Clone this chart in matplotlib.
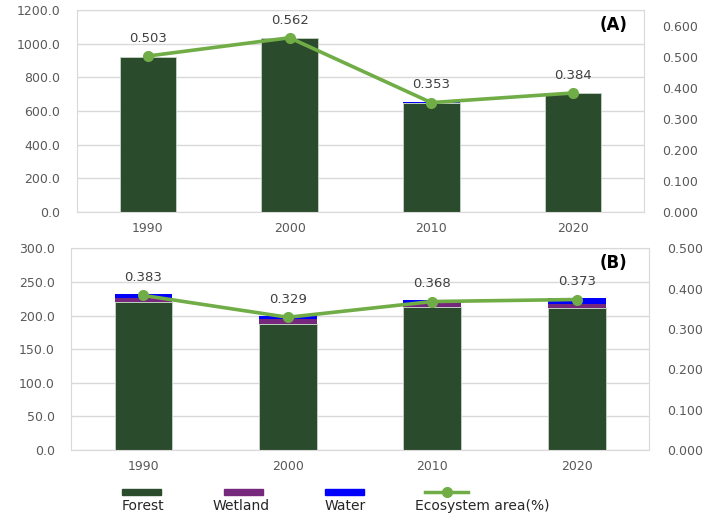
import matplotlib.pyplot as plt
from matplotlib.patches import Rectangle
from matplotlib.lines import Line2D

# data
years = ["1990", "2000", "2010", "2020"]

forest_a = [918, 1031, 649, 705]
wetland_a = [1, 1, 1, 1]
water_a = [3, 3, 2, 3]
eco_a = [0.503, 0.562, 0.353, 0.384]

forest_b = [220, 188, 213, 211]
wetland_b = [6, 7, 5.5, 6]
water_b = [6.5, 4, 4, 9]
eco_b = [0.383, 0.329, 0.368, 0.373]

left_ticks_a = [0, 200, 400, 600, 800, 1000, 1200]
right_ticks_a = [0, 0.1, 0.2, 0.3, 0.4, 0.5, 0.6]
left_ticks_b = [0, 50, 100, 150, 200, 250, 300]
right_ticks_b = [0, 0.1, 0.2, 0.3, 0.4, 0.5]

# style
c_forest = "#2B4B2D"
c_wetland = "#76287C"
c_water = "#0000FF"
c_line = "#70AD47"
c_tick = "#595959"
c_grid = "#D9D9D9"
plt.rcParams['font.family'] = ['DejaVu Sans']

fig = plt.figure(figsize=(7.13, 5.15), dpi=100)


def panel(rect, forest, wetland, water, eco, lticks, rticks, rmax, tag, tagx):
    ax = fig.add_axes(rect)
    x = range(len(years))
    bot2 = [f + w for f, w in zip(forest, wetland)]
    ax.bar(x, forest, width=0.4, color=c_forest, edgecolor="#C9D3C9", linewidth=0.6, zorder=2)
    ax.bar(x, wetland, width=0.4, bottom=forest, color=c_wetland, linewidth=0, zorder=2)
    ax.bar(x, water, width=0.4, bottom=bot2, color=c_water, linewidth=0, zorder=2)
    ax.set_xlim(-0.5, len(years) - 0.5)
    ax.set_ylim(lticks[0], lticks[-1])
    ax.set_yticks(lticks)
    ax.set_yticklabels([f"{v:.1f}" for v in lticks])
    ax.set_xticks(list(x))
    ax.set_xticklabels(years)
    ax.yaxis.grid(True, color=c_grid, linewidth=1, zorder=0)
    ax.set_axisbelow(True)
    ax.tick_params(axis="y", length=0, labelsize=9, colors=c_tick, pad=12)
    ax.tick_params(axis="x", length=0, labelsize=9, colors=c_tick, pad=7)
    for s in ax.spines.values():
        s.set_color(c_grid)

    ax2 = ax.twinx()
    ax2.plot(list(x), eco, color=c_line, linewidth=2.6, marker="o", markersize=7, zorder=5)
    ax2.set_ylim(0, rmax)
    ax2.set_yticks(rticks)
    ax2.set_yticklabels([f"{v:.3f}" for v in rticks])
    ax2.tick_params(length=0, labelsize=9, colors=c_tick, pad=13)
    for s in ax2.spines.values():
        s.set_visible(False)
    for xi, v in zip(x, eco):
        ax2.annotate(f"{v:.3f}", (xi, v), xytext=(0, 8), textcoords="offset points",
                     ha="center", va="bottom", fontsize=9.5, color="#404040")
    ax.text(tagx, 0.926, tag, transform=ax.transAxes, ha="right", va="center",
            fontsize=12, fontweight="bold", color="black")
    return ax


panel([0.108, 0.588, 0.795, 0.393], forest_a, wetland_a, water_a, eco_a,
      left_ticks_a, right_ticks_a, 0.652, "(A)", 0.972)
panel([0.100, 0.126, 0.810, 0.392], forest_b, wetland_b, water_b, eco_b,
      left_ticks_b, right_ticks_b, 0.5, "(B)", 0.962)

# legend drawn by hand: handle above label
W, H = 713, 515
hy = 1 - 492 / H
ty = 1 - 506 / H
items = [("Forest", c_forest, 122, 143), ("Wetland", c_wetland, 224, 241), ("Water", c_water, 325, 345)]
for name, col, x0, tx in items:
    fig.patches.append(Rectangle((x0 / W, hy - 3 / H), 39 / W, 6 / H, color=col,
                                 transform=fig.transFigure, figure=fig))
    fig.text(tx / W, ty, name, ha="center", va="center", fontsize=10, color="#262626")
fig.lines.append(Line2D([425 / W, 468 / W], [hy, hy], color=c_line, linewidth=2.5,
                        transform=fig.transFigure, figure=fig))
fig.lines.append(Line2D([447 / W], [hy], color=c_line, marker="o", markersize=7,
                        transform=fig.transFigure, figure=fig))
fig.text(482 / W, ty, "Ecosystem area(%)", ha="center", va="center", fontsize=10, color="#262626")

fig.savefig("out.png", dpi=100)
